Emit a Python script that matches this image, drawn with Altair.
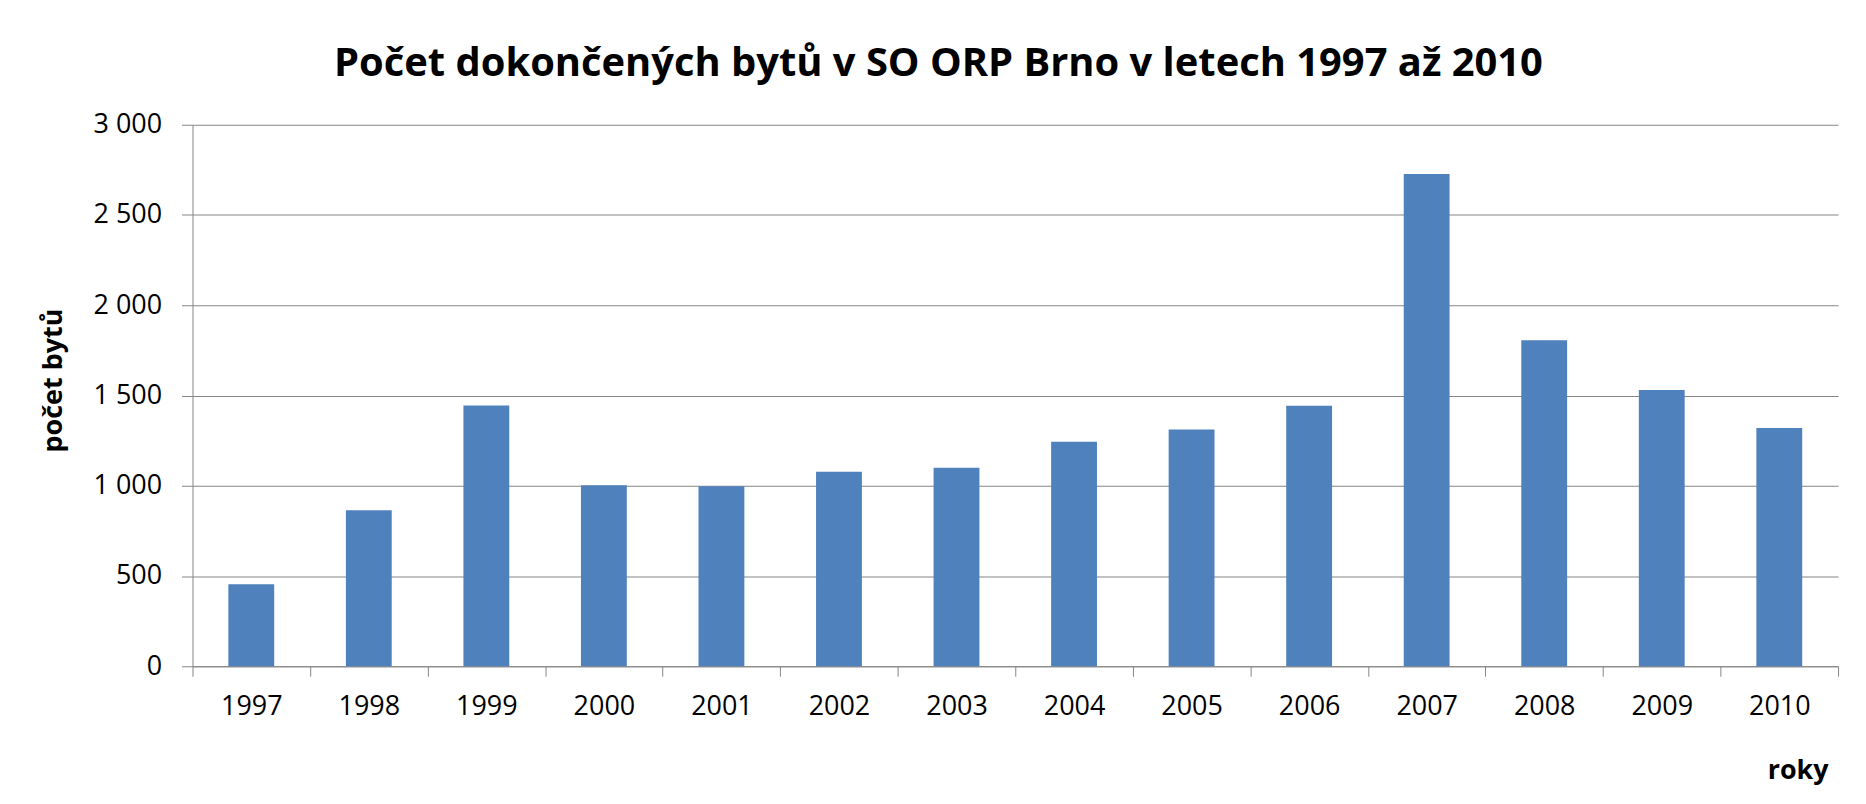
import altair as alt
import pandas as pd

years = ["1997", "1998", "1999", "2000", "2001", "2002", "2003",
         "2004", "2005", "2006", "2007", "2008", "2009", "2010"]
flats = [454, 865, 1445, 1003, 997, 1077, 1100, 1244, 1311, 1443, 2727, 1806, 1531, 1320]
y_ticks = [0, 500, 1000, 1500, 2000, 2500, 3000]

df = pd.DataFrame({"rok": years, "byty": flats})

FONT = "Open Sans"
GRAY = "#868686"
W, H = 1650, 543

chart = alt.Chart(df).mark_bar(
    color="#4F81BD", width=alt.RelativeBandSize(0.39)
).encode(
    x=alt.X("rok:N", sort=years,
            scale=alt.Scale(paddingInner=0, paddingOuter=0),
            axis=alt.Axis(title="roky", labelAngle=0, tickBand="extent",
                          tickSize=10, tickColor=GRAY, domainColor=GRAY,
                          labelFont=FONT, labelFontSize=27, labelColor="#000000",
                          labelPadding=17,
                          titleFont=FONT, titleFontSize=27, titleFontWeight="bold",
                          titleColor="#000000", titleAlign="right",
                          titleX=1640, titleY=113, titleBaseline="alphabetic")),
    y=alt.Y("byty:Q", scale=alt.Scale(domain=[0, 3000]),
            axis=alt.Axis(title="počet bytů", values=y_ticks,
                          labelExpr="replace(format(datum.value, ','), ',', ' ')",
                          grid=True, gridColor=GRAY, gridWidth=1.2,
                          tickSize=11, tickColor=GRAY, domainColor=GRAY,
                          labelFont=FONT, labelFontSize=27, labelColor="#000000",
                          labelPadding=20,
                          titleFont=FONT, titleFontSize=27, titleFontWeight="bold",
                          titleColor="#000000", titleX=-131, titleY=256,
                          titleAngle=-90, titleAlign="center", titleBaseline="alphabetic"))
).properties(
    width=W, height=H,
    title=alt.TitleParams("Počet dokončených bytů v SO ORP Brno v letech 1997 až 2010",
                          font=FONT, fontSize=40, fontWeight="bold", color="#000000",
                          anchor="middle", dx=-77, offset=27),
    autosize=alt.AutoSizeParams(type="none"),
    padding={"left": 185, "top": 116, "right": 20, "bottom": 120},
    background="white"
).configure_view(stroke=None)

chart.save("out.html", embed_options={"renderer": "svg", "actions": False})
